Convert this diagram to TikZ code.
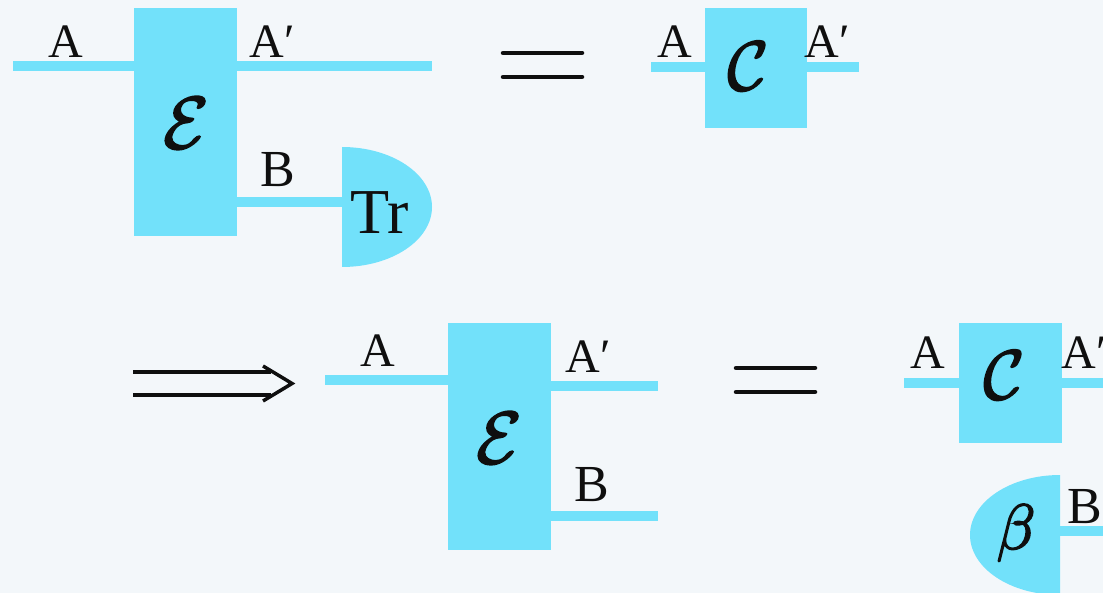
\RequirePackage{fix-cm}
\documentclass[tikz,border=0pt]{standalone}
\usepackage{fontspec}
\setmainfont{Liberation Serif}
\definecolor{qcyan}{RGB}{114,225,250}
\definecolor{bgc}{RGB}{243,247,250}
\definecolor{ink}{RGB}{15,15,15}
\newcommand{\heavy}[1]{\special{pdf:code 2 Tr 1.6 w}#1\special{pdf:code 0 Tr}}
\begin{document}
\begin{tikzpicture}[x=1pt,y=1pt,
  wire/.style={draw=qcyan,line width=10pt},
  chan/.style={fill=qcyan,draw=none,minimum width=103pt,inner sep=0pt},
  lbl/.style={font=\fontsize{48}{50}\selectfont,inner sep=0pt,text=ink},
  blbl/.style={font=\fontsize{52}{54}\selectfont,inner sep=0pt,text=ink},
  bigsym/.style={font=\fontsize{74}{80}\selectfont,inner sep=0pt,text=ink},
  csym/.style={font=\fontsize{70}{76}\selectfont,inner sep=0pt,text=ink},
  eqline/.style={line width=4.5pt,line cap=round,draw=ink},
  dbl/.style={line width=3.5pt,draw=ink}
]
\useasboundingbox (0,0) rectangle (1103,-593);
\fill[bgc] (0,0) rectangle (1103,-593);
\clip (0,0) rectangle (1103,-593);

% ---------- top left: E with traced B ----------
\node[chan,minimum height=228pt] (E1) at (185.5,-122) {};
\coordinate (a1) at (13,-66);
\coordinate (a1p) at (432,-66);
\coordinate (tr) at (342,-202);
\fill[qcyan] (342,-147) arc[start angle=90,end angle=-90,x radius=90pt,y radius=60pt] -- cycle;
\draw[wire] (a1) -- (a1 -| E1.west);
\draw[wire] (E1.east |- a1p) -- (a1p);
\draw[wire] (E1.east |- tr) -- (tr);
\node[bigsym] (E1t) at (186,-123) {\heavy{$\mathcal{E}$}};
\node[lbl] (la1) at (66,-42) {A};
\node[lbl] (la1p) at (272,-42) {A′};
\node[blbl] (lb1) at (278,-170) {B};
\node[font=\fontsize{64}{66}\selectfont,inner sep=0pt,text=ink] (trt) at (380,-213) {Tr};

% ---------- top equals ----------
\draw[eqline] (503,-53) -- (582,-53);
\draw[eqline] (503,-77) -- (582,-77);

% ---------- top right: C ----------
\node[chan,minimum width=102pt,minimum height=120pt] (C1) at (756,-68) {};
\coordinate (c1l) at (651,-67);
\coordinate (c1r) at (859,-67);
\draw[wire] (c1l) -- (c1l -| C1.west);
\draw[wire] (C1.east |- c1r) -- (c1r);
\node[csym] (C1t) at (748,-66) {\heavy{$\mathcal{C}$}};
\node[lbl] (lc1) at (675,-42) {A};
\node[lbl] (lc1p) at (827,-42) {A′};

% ---------- implies arrow ----------
\draw[dbl] (133,-372) -- (271,-372);
\draw[dbl] (133,-395) -- (271,-395);
\draw[dbl,line join=miter] (263,-366) .. controls (273,-372) and (283,-378) .. (292,-383.5)
  .. controls (283,-389) and (273,-395) .. (263,-401);

% ---------- bottom: E ----------
\node[chan,minimum height=227pt] (E2) at (499.5,-436.5) {};
\coordinate (a2) at (325,-380);
\coordinate (a2p) at (658,-386);
\coordinate (b2) at (658,-516);
\draw[wire] (a2) -- (a2 -| E2.west);
\draw[wire] (E2.east |- a2p) -- (a2p);
\draw[wire] (E2.east |- b2) -- (b2);
\node[bigsym] (E2t) at (499,-438) {\heavy{$\mathcal{E}$}};
\node[lbl] (la2) at (378,-351) {A};
\node[lbl] (la2p) at (588,-357) {A′};
\node[blbl] (lb2) at (592,-485) {B};

% ---------- bottom equals ----------
\draw[eqline] (736,-368) -- (815,-368);
\draw[eqline] (736,-392) -- (815,-392);

% ---------- bottom right: C and beta ----------
\node[chan,minimum height=120pt] (C2) at (1010.5,-383) {};
\coordinate (c2l) at (904,-383);
\coordinate (c2r) at (1115,-383);
\draw[wire] (c2l) -- (c2l -| C2.west);
\draw[wire] (C2.east |- c2r) -- (c2r);
\node[csym] (C2t) at (1004,-375) {\heavy{$\mathcal{C}$}};
\node[lbl] (lc2) at (928,-353) {A};
\node[lbl] (lc2p) at (1084,-353) {A′};

\fill[qcyan] (1060,-475) arc[start angle=90,end angle=270,x radius=90pt,y radius=60pt] -- cycle;
\coordinate (bet) at (1060,-531);
\coordinate (bete) at (1115,-531);
\draw[wire] (bet) -- (bete);
\node[font=\fontsize{64}{68}\selectfont,inner sep=0pt,text=ink] (betat) at (1016,-533) {\heavy{$\beta$}};
\node[blbl] (lb3) at (1085,-507) {B};
\end{tikzpicture}
\end{document}
